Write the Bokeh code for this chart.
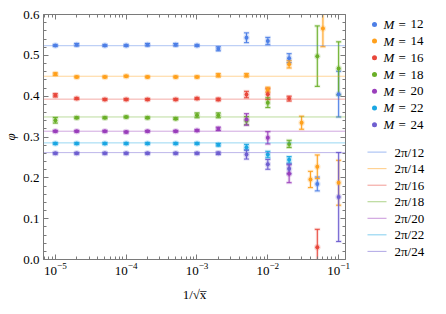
import numpy as np
from bokeh.plotting import figure
from bokeh.models import (Range1d, LogAxis, LinearAxis, Span, Whisker, TeeHead,
                          ColumnDataSource, NumeralTickFormatter, LogTicker,
                          CustomJSTickFormatter, FixedTicker)
from bokeh.layouts import row
from bokeh.embed import file_html
from bokeh.resources import INLINE
from bokeh.core.properties import value

# ---------------- data ----------------
M_values = [12, 14, 16, 18, 20, 22, 24]
colors = ["#4D7FE6", "#FFA01C", "#E8473B", "#6AAF28", "#9A3EBB", "#1BA7E3", "#6F5FD0"]
y_ticks = [0.0, 0.1, 0.2, 0.3, 0.4, 0.5, 0.6]

x_M12 = [1e-5, 2e-5, 5e-5, 1e-4, 2e-4, 5e-4, 1e-3, 2e-3, 5e-3, 1e-2, 2e-2, 5e-2, 1e-1]
y_M12 = [0.524, 0.526, 0.524, 0.524, 0.526, 0.526, 0.524, 0.516, 0.543, 0.535, 0.493, 0.185, 0.405]
e_M12 = [0.002, 0.003, 0.002, 0.002, 0.003, 0.003, 0.002, 0.005, 0.012, 0.009, 0.011, 0.017, 0.056]

x_M14 = [1e-5, 2e-5, 5e-5, 1e-4, 2e-4, 5e-4, 1e-3, 2e-3, 5e-3, 1e-2, 2e-2, 3e-2, 4e-2, 5e-2, 6e-2, 1e-1]
y_M14 = [0.454, 0.447, 0.447, 0.449, 0.447, 0.447, 0.447, 0.451, 0.451, 0.416, 0.478, 0.335, 0.196, 0.227, 0.566, 0.188]
e_M14 = [0.003, 0.002, 0.002, 0.002, 0.002, 0.002, 0.002, 0.004, 0.004, 0.006, 0.009, 0.016, 0.020, 0.029, 0.045, 0.055]

x_M16 = [1e-5, 2e-5, 5e-5, 1e-4, 2e-4, 5e-4, 1e-3, 2e-3, 5e-3, 1e-2, 2e-2, 5e-2]
y_M16 = [0.402, 0.394, 0.392, 0.392, 0.392, 0.392, 0.394, 0.392, 0.404, 0.405, 0.394, 0.030]
e_M16 = [0.004, 0.002, 0.002, 0.002, 0.002, 0.002, 0.002, 0.003, 0.008, 0.013, 0.006, 0.044]

x_M18 = [1e-5, 2e-5, 5e-5, 1e-4, 2e-4, 5e-4, 1e-3, 2e-3, 5e-3, 1e-2, 2e-2, 5e-2, 1e-1]
y_M18 = [0.341, 0.347, 0.347, 0.349, 0.347, 0.345, 0.353, 0.353, 0.340, 0.384, 0.283, 0.498, 0.468]
e_M18 = [0.007, 0.002, 0.002, 0.002, 0.002, 0.002, 0.006, 0.006, 0.010, 0.012, 0.009, 0.074, 0.065]

x_M20 = [1e-5, 2e-5, 5e-5, 1e-4, 2e-4, 5e-4, 1e-3, 2e-3, 5e-3, 1e-2, 2e-2]
y_M20 = [0.314, 0.314, 0.314, 0.312, 0.314, 0.314, 0.316, 0.320, 0.343, 0.298, 0.210]
e_M20 = [0.002, 0.002, 0.002, 0.002, 0.002, 0.002, 0.002, 0.004, 0.014, 0.015, 0.022]

x_M22 = [1e-5, 2e-5, 5e-5, 1e-4, 2e-4, 5e-4, 1e-3, 2e-3, 5e-3, 1e-2, 2e-2]
y_M22 = [0.284, 0.284, 0.284, 0.284, 0.284, 0.284, 0.284, 0.281, 0.275, 0.257, 0.244]
e_M22 = [0.002, 0.002, 0.002, 0.002, 0.002, 0.002, 0.002, 0.003, 0.007, 0.008, 0.008]

x_M24 = [1e-5, 2e-5, 5e-5, 1e-4, 2e-4, 5e-4, 1e-3, 2e-3, 5e-3, 1e-2, 2e-2, 1e-1]
y_M24 = [0.260, 0.260, 0.260, 0.260, 0.260, 0.260, 0.260, 0.260, 0.257, 0.233, 0.222, 0.153]
e_M24 = [0.002, 0.002, 0.002, 0.002, 0.002, 0.002, 0.002, 0.003, 0.011, 0.012, 0.012, 0.109]

series = [(x_M12, y_M12, e_M12), (x_M14, y_M14, e_M14), (x_M16, y_M16, e_M16),
          (x_M18, y_M18, e_M18), (x_M20, y_M20, e_M20), (x_M22, y_M22, e_M22),
          (x_M24, y_M24, e_M24)]

FONT = "Liberation Serif"
FRAME = "#7a7a7a"
H = 305

# ---------------- main plot ----------------
p = figure(width=350, height=H, x_axis_type="log",
           x_range=Range1d(6.8e-6, 0.125), y_range=Range1d(0, 0.6),
           toolbar_location=None, output_backend="svg",
           min_border_left=38, min_border_right=5, min_border_top=14, min_border_bottom=46)
p.outline_line_color = None
p.grid.visible = False
p.background_fill_color = "white"
p.border_fill_color = "white"
bottom = p.xaxis[0]
left = p.yaxis[0]

# reference lines 2pi/M
for M, c in zip(M_values, colors):
    p.add_layout(Span(location=2 * np.pi / M, dimension="width", line_color=c,
                      line_alpha=0.45, line_width=1))

for (xs, ys, es), c in zip(series, colors):
    xs = np.array(xs); ys = np.array(ys); es = np.array(es)
    src = ColumnDataSource(dict(x=xs, y=ys, upper=ys + es, lower=ys - es))
    halo = Whisker(source=src, base="x", upper="upper", lower="lower", dimension="height",
                   line_color=c, line_alpha=0.18, line_width=3,
                   upper_head=TeeHead(size=6, line_color=c, line_alpha=0.18, line_width=3),
                   lower_head=TeeHead(size=6, line_color=c, line_alpha=0.18, line_width=3))
    p.add_layout(halo)
    w = Whisker(source=src, base="x", upper="upper", lower="lower", dimension="height",
                line_color=c, line_width=1,
                upper_head=TeeHead(size=5, line_color=c, line_width=1),
                lower_head=TeeHead(size=5, line_color=c, line_width=1))
    p.add_layout(w)
    p.scatter("x", "y", source=src, size=6.5, fill_color=c, fill_alpha=0.22, line_color=None)
    p.scatter("x", "y", source=src, size=4, fill_color=c, line_color=None)

def style_axis(ax, labels=True):
    ax.axis_line_color = FRAME
    ax.major_tick_line_color = FRAME
    ax.minor_tick_line_color = FRAME
    ax.major_tick_in = 5
    ax.major_tick_out = 0
    ax.minor_tick_in = 3
    ax.minor_tick_out = 0
    ax.major_label_text_font = FONT
    ax.major_label_text_font_size = "13px"
    ax.major_label_text_color = "black"
    if not labels:
        ax.formatter = CustomJSTickFormatter(code="return ''")
        ax.major_label_text_font_size = "1px"
        ax.major_label_standoff = 0

y_minor = [round(v, 3) for v in np.arange(0, 0.6001, 0.02)]
bottom.ticker = LogTicker(num_minor_ticks=10)
left.ticker = FixedTicker(ticks=y_ticks, minor_ticks=y_minor)
left.formatter = NumeralTickFormatter(format="0.0")
style_axis(bottom)
style_axis(left)
bottom.major_label_standoff = 3
left.major_label_standoff = 4

top = LogAxis(ticker=LogTicker(num_minor_ticks=10))
style_axis(top, labels=False)
p.add_layout(top, "above")
right = LinearAxis(ticker=FixedTicker(ticks=y_ticks, minor_ticks=y_minor))
style_axis(right, labels=False)
p.add_layout(right, "right")

bottom.axis_label = "1/√x̅"
left.axis_label = "φ"
for ax, st in ((bottom, "normal"), (left, "italic")):
    ax.axis_label_text_font = FONT
    ax.axis_label_text_font_size = "13px"
    ax.axis_label_text_font_style = st
    ax.axis_label_text_color = "black"
bottom.axis_label_standoff = 9
left.axis_label_standoff = 2

# ---------------- legend panel ----------------
leg = figure(width=80, height=H, x_range=Range1d(0, 80), y_range=Range1d(H, 0),
             toolbar_location=None, output_backend="svg",
             x_axis_location=None, y_axis_location=None,
             min_border_left=0, min_border_right=0, min_border_top=0, min_border_bottom=0)
leg.grid.visible = False
leg.outline_line_color = None

n = len(M_values)
dot_y = [12.3 + 20.8 * i for i in range(n)]
line_y = [171.3 + 20.6 * i for i in range(n)]
FS = "13px"
leg.scatter(x=[24] * n, y=dot_y, size=5, fill_color=colors, line_color=None)
leg.text(x=[33] * n, y=dot_y, text=["M"] * n, text_font=value(FONT), text_font_style="italic",
         text_font_size=FS, text_baseline="middle", text_color="black")
leg.text(x=[48] * n, y=dot_y, text=["="] * n, text_font=value(FONT),
         text_font_size=FS, text_baseline="middle", text_color="black")
leg.text(x=[60] * n, y=dot_y, text=[str(M) for M in M_values], text_font=value(FONT),
         text_font_size=FS, text_baseline="middle", text_color="black")
leg.segment(x0=[17] * n, x1=[36] * n, y0=line_y, y1=line_y, line_color=colors,
            line_alpha=0.55, line_width=1)
leg.text(x=[44] * n, y=line_y, text=["2π/%d" % M for M in M_values], text_font=value(FONT),
         text_font_size=FS, text_baseline="middle", text_color="black")

layout = row(p, leg, spacing=0)
open("out.html", "w").write(file_html(layout, INLINE))
